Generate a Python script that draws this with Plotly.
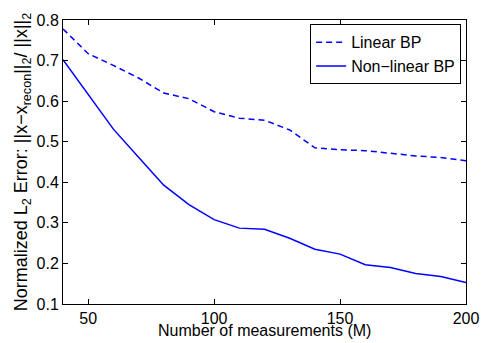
import plotly.graph_objects as go

m_values = [40, 50, 60, 70, 80, 90, 100, 110, 120, 130, 140, 150, 160, 170, 180, 190, 200]
linear_bp = [0.778, 0.717, 0.688, 0.657, 0.620, 0.606, 0.574, 0.558, 0.553, 0.529, 0.485, 0.480, 0.478, 0.471, 0.465, 0.461, 0.453]
nonlinear_bp = [0.702, 0.617, 0.531, 0.462, 0.393, 0.345, 0.308, 0.287, 0.284, 0.262, 0.235, 0.223, 0.197, 0.190, 0.175, 0.168, 0.153]
x_ticks = [50, 100, 150, 200]
y_ticks = [0.1, 0.2, 0.3, 0.4, 0.5, 0.6, 0.7, 0.8]

font = "Liberation Sans, Arial, Helvetica, sans-serif"

W, H = 491, 343
L, R, T, B = 63, 13, 15, 39
plot_h = H - T - B

fig = go.Figure()
fig.add_trace(go.Scatter(x=m_values, y=linear_bp, mode="lines", name="Linear BP",
                         line=dict(color="#0000ff", width=1.5, dash="6px,4px")))
fig.add_trace(go.Scatter(x=m_values, y=nonlinear_bp, mode="lines", name="Non\u2212linear BP",
                         line=dict(color="#0000ff", width=1.5)))

axis_common = dict(showline=True, linecolor="black", linewidth=1, mirror="ticks",
                   ticks="inside", ticklen=5, tickcolor="black", showgrid=False,
                   zeroline=False, ticklabeloverflow="allow",
                   tickfont=dict(size=16, color="black", family=font))

fig.update_xaxes(range=[40, 200], tickvals=x_ticks, ticktext=[str(v) for v in x_ticks],
                 **axis_common)
fig.update_yaxes(range=[0.1, 0.8], tickvals=y_ticks, ticktext=[f"{v:.1f}" for v in y_ticks],
                 title=dict(text="Normalized L<sub>2</sub> Error: ||x\u2212x<sub>recon</sub>||<sub>2</sub>/ ||x||<sub>2</sub>",
                            standoff=4, font=dict(size=18, color="black", family=font)),
                 **axis_common)

# x-axis title placed just under the tick labels, as in the reference
fig.add_annotation(text="Number of measurements (M)", xref="paper", yref="paper",
                   x=0.5, y=-(331 - (H - B)) / plot_h, xanchor="center", yanchor="middle",
                   showarrow=False, font=dict(size=16, color="black", family=font))

fig.update_layout(
    width=W, height=H,
    margin=dict(l=L, r=R, t=T, b=B),
    paper_bgcolor="white", plot_bgcolor="white",
    font=dict(family=font, color="black"),
    legend=dict(x=0.988, y=0.985, xanchor="right", yanchor="top",
                bgcolor="white", bordercolor="black", borderwidth=1,
                font=dict(size=16, color="black", family=font),
                tracegroupgap=0, itemwidth=30),
)

# remove the browser's default 8px body margin so the figure fills the window exactly
fig.write_html("out.html", config={"displayModeBar": False},
               post_script="document.body.style.margin='0';document.body.style.overflow='hidden';")
